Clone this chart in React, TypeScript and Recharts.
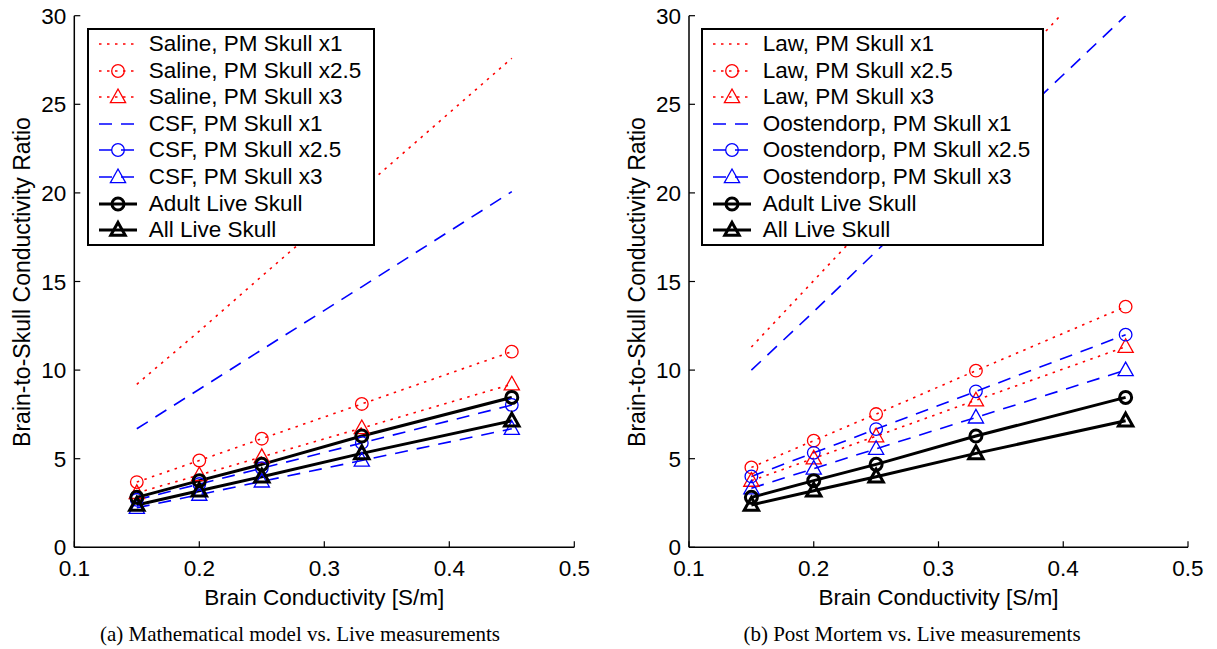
import React from "react";
import { LineChart, Line, XAxis, YAxis, Legend } from "recharts";

const conductivity = [0.15, 0.2, 0.25, 0.33, 0.45];
const xTicks = [0.1, 0.2, 0.3, 0.4, 0.5];
const yTicks = [0, 5, 10, 15, 20, 25, 30];

// (a) mathematical model
const salineX1 = [9.2, 12.2, 15.3, 20.2, 27.6];
const salineX25 = [3.68, 4.9, 6.13, 8.09, 11.04];
const salineX3 = [3.07, 4.08, 5.1, 6.73, 9.2];
const csfX1 = [6.69, 8.92, 11.15, 14.7, 20.07];
const csfX25 = [2.68, 3.57, 4.46, 5.89, 8.03];
const csfX3 = [2.23, 2.97, 3.72, 4.9, 6.69];

// (b) post mortem
const lawX1 = [11.3, 15.05, 18.8, 24.9, 33.95];
const lawX25 = [4.51, 6.02, 7.52, 9.97, 13.58];
const lawX3 = [3.76, 5.02, 6.27, 8.3, 11.32];
const oostX1 = [10.0, 13.3, 16.7, 22.0, 30.0];
const oostX25 = [4.0, 5.33, 6.67, 8.8, 12.0];
const oostX3 = [3.33, 4.44, 5.56, 7.33, 10.0];

// live measurements (same on both panels)
const adultLive = [2.82, 3.76, 4.68, 6.28, 8.46];
const allLive = [2.39, 3.19, 3.98, 5.3, 7.14];

const SANS = "'Liberation Sans', Arial, Helvetica, sans-serif";
const SERIF = "'Liberation Serif', 'Times New Roman', serif";
const FS = 22.5;
const RED = "#ff0000";
const BLUE = "#0000ff";
const DOTTED = "2.5 5.5";
const DASHED = "13 9";

type Marker = "none" | "circle" | "triangle";
type Series = {
  name: string;
  values: number[];
  color: string;
  dash?: string;
  width: number;
  marker: Marker;
};

function series(prefix: string, x1: number[], x25: number[], x3: number[], color: string, dash: string): Series[] {
  return [
    { name: `${prefix}, PM Skull x1`, values: x1, color, dash, width: 1.6, marker: "none" },
    { name: `${prefix}, PM Skull x2.5`, values: x25, color, dash, width: 1.6, marker: "circle" },
    { name: `${prefix}, PM Skull x3`, values: x3, color, dash, width: 1.6, marker: "triangle" },
  ];
}

const liveSeries: Series[] = [
  { name: "Adult Live Skull", values: adultLive, color: "#000", width: 3, marker: "circle" },
  { name: "All Live Skull", values: allLive, color: "#000", width: 3, marker: "triangle" },
];

const seriesA: Series[] = [
  ...series("Saline", salineX1, salineX25, salineX3, RED, DOTTED),
  ...series("CSF", csfX1, csfX25, csfX3, BLUE, DASHED),
  ...liveSeries,
];
const seriesB: Series[] = [
  ...series("Law", lawX1, lawX25, lawX3, RED, DOTTED),
  ...series("Oostendorp", oostX1, oostX25, oostX3, BLUE, DASHED),
  ...liveSeries,
];

function markerShape(marker: Marker, cx: number, cy: number, color: string, sw: number, key?: any) {
  const bold = sw > 2;
  const stroke = bold ? 3 : 1.3;
  if (marker === "circle")
    return <circle key={key} cx={cx} cy={cy} r={bold ? 6 : 6.3} fill="none" stroke={color} strokeWidth={stroke} />;
  if (marker === "triangle") {
    const h = bold ? 7.6 : 8;
    return (
      <path
        key={key}
        d={`M${cx},${cy - h}L${cx + h * 0.95},${cy + h * 0.7}L${cx - h * 0.95},${cy + h * 0.7}Z`}
        fill="none"
        stroke={color}
        strokeWidth={stroke}
        strokeLinejoin="miter"
      />
    );
  }
  return <g key={key} />;
}

const TICK_GAP = 10;

const BottomTick = (props: any) => {
  const { x, y, payload } = props;
  const ay = y - TICK_GAP;
  return (
    <g>
      <line x1={x} x2={x} y1={ay} y2={ay - 6} stroke="#000" strokeWidth={1.2} />
      <text x={x} y={y} dy={19} textAnchor="middle" fontFamily={SANS} fontSize={FS} fill="#000">
        {payload.value}
      </text>
    </g>
  );
};

const LeftTick = (props: any) => {
  const { x, y, payload } = props;
  const ax = x + 8;
  return (
    <g>
      <line x1={ax} x2={ax + 6} y1={y} y2={y} stroke="#000" strokeWidth={1.2} />
      <text x={x} y={y} dy={8} textAnchor="end" fontFamily={SANS} fontSize={FS} fill="#000">
        {payload.value}
      </text>
    </g>
  );
};

const TopTick = (props: any) => {
  const { x, y } = props;
  return <line x1={x} x2={x} y1={y} y2={y + 6} stroke="#000" strokeWidth={1.2} />;
};

const RightTick = (props: any) => {
  const { x, y } = props;
  return <line x1={x} x2={x - 6} y1={y} y2={y} stroke="#000" strokeWidth={1.2} />;
};

function LegendBox({ items, width }: { items: Series[]; width: number }) {
  return (
    <div
      style={{
        border: "2px solid #000",
        background: "#fff",
        width,
        boxSizing: "border-box",
        padding: "1px 0",
        fontFamily: SANS,
        fontSize: FS,
        color: "#000",
      }}
    >
      {items.map((s) => (
        <div key={s.name} style={{ height: 26.6, display: "flex", alignItems: "center", whiteSpace: "nowrap" }}>
          <svg width={60} height={26} style={{ flex: "none" }}>
            <line
              x1={10}
              x2={48}
              y1={13}
              y2={13}
              stroke={s.color}
              strokeWidth={s.width}
              strokeDasharray={s.dash}
            />
            {markerShape(s.marker, 29, 13, s.color, s.width)}
          </svg>
          <span style={{ lineHeight: "26px" }}>{s.name}</span>
        </div>
      ))}
    </div>
  );
}

function Panel({
  items,
  width,
  marginLeft,
  marginRight,
  legendLeft,
  legendWidth,
}: {
  items: Series[];
  width: number;
  marginLeft: number;
  marginRight: number;
  legendLeft: number;
  legendWidth: number;
}) {
  const data = conductivity.map((x, i) => {
    const row: Record<string, number> = { x };
    items.forEach((s, j) => {
      row[`s${j}`] = s.values[i];
    });
    return row;
  });

  return (
    <LineChart
      width={width}
      height={649}
      data={data}
      margin={{ top: 15.7, right: marginRight, bottom: 41.7, left: marginLeft }}
    >
      <XAxis
        dataKey="x"
        type="number"
        domain={[0.1, 0.5]}
        ticks={xTicks}
        allowDataOverflow
        height={60}
        tickSize={0}
        tickMargin={TICK_GAP}
        tickLine={false}
        tick={<BottomTick />}
        axisLine={{ stroke: "#000", strokeWidth: 1.5 }}
        label={{
          value: "Brain Conductivity [S/m]",
          position: "insideBottom",
          offset: 2,
          style: { fontFamily: SANS, fontSize: FS, fill: "#000" },
        }}
      />
      <XAxis
        xAxisId="top"
        orientation="top"
        type="number"
        domain={[0.1, 0.5]}
        ticks={xTicks}
        allowDataOverflow
        height={0}
        tickSize={0}
        tickMargin={0}
        tickLine={false}
        tick={<TopTick />}
        axisLine={{ stroke: "#000", strokeWidth: 1.5 }}
      />
      <YAxis
        type="number"
        domain={[0, 30]}
        ticks={yTicks}
        allowDataOverflow
        width={60}
        tickSize={0}
        tickMargin={8}
        tickLine={false}
        tick={<LeftTick />}
        axisLine={{ stroke: "#000", strokeWidth: 1.5 }}
      />
      <YAxis
        yAxisId="right"
        orientation="right"
        type="number"
        domain={[0, 30]}
        ticks={yTicks}
        allowDataOverflow
        width={0}
        tickSize={0}
        tickMargin={0}
        tickLine={false}
        tick={<RightTick />}
        axisLine={{ stroke: "#000", strokeWidth: 1.5 }}
      />
      {items.map((s, j) => (
        <Line
          key={s.name}
          dataKey={`s${j}`}
          name={s.name}
          type="linear"
          stroke={s.color}
          strokeWidth={s.width}
          strokeDasharray={s.dash}
          isAnimationActive={false}
          dot={
            s.marker === "none"
              ? false
              : (p: any) => markerShape(s.marker, p.cx, p.cy, s.color, s.width, `${s.name}-${p.index}`)
          }
          activeDot={false}
        />
      ))}
      <Legend
        layout="vertical"
        align="center"
        verticalAlign="middle"
        wrapperStyle={{ left: legendLeft, top: 27.7, width: legendWidth, height: "auto" }}
        content={() => <LegendBox items={items} width={legendWidth} />}
      />
    </LineChart>
  );
}

const yLabel = "Brain-to-Skull Conductivity Ratio";

function YLabel({ cx }: { cx: number }) {
  return (
    <div
      style={{
        position: "absolute",
        left: cx,
        top: 281.5,
        transform: "translate(-50%, -50%) rotate(-90deg)",
        whiteSpace: "nowrap",
        fontFamily: SANS,
        fontSize: 23,
        color: "#000",
      }}
    >
      {yLabel}
    </div>
  );
}

function Caption({ cx, text }: { cx: number; text: string }) {
  return (
    <div
      style={{
        position: "absolute",
        left: cx,
        top: 634,
        transform: "translate(-50%, -50%)",
        whiteSpace: "nowrap",
        fontFamily: SERIF,
        fontSize: 21,
        color: "#000",
      }}
    >
      {text}
    </div>
  );
}

export default function App() {
  return (
    <div
      style={{
        position: "absolute",
        left: 0,
        top: 0,
        width: 1217,
        height: 649,
        background: "#fff",
        overflow: "hidden",
      }}
    >
      <div style={{ position: "absolute", left: 0, top: 0 }}>
        <Panel items={seriesA} width={600} marginLeft={14.3} marginRight={25.7} legendLeft={86.7} legendWidth={288} />
      </div>
      <div style={{ position: "absolute", left: 600, top: 0 }}>
        <Panel items={seriesB} width={617} marginLeft={29} marginRight={29} legendLeft={100.7} legendWidth={343} />
      </div>
      <YLabel cx={22} />
      <YLabel cx={637} />
      <Caption cx={300} text="(a) Mathematical model vs. Live measurements" />
      <Caption cx={912} text="(b) Post Mortem vs. Live measurements" />
    </div>
  );
}
